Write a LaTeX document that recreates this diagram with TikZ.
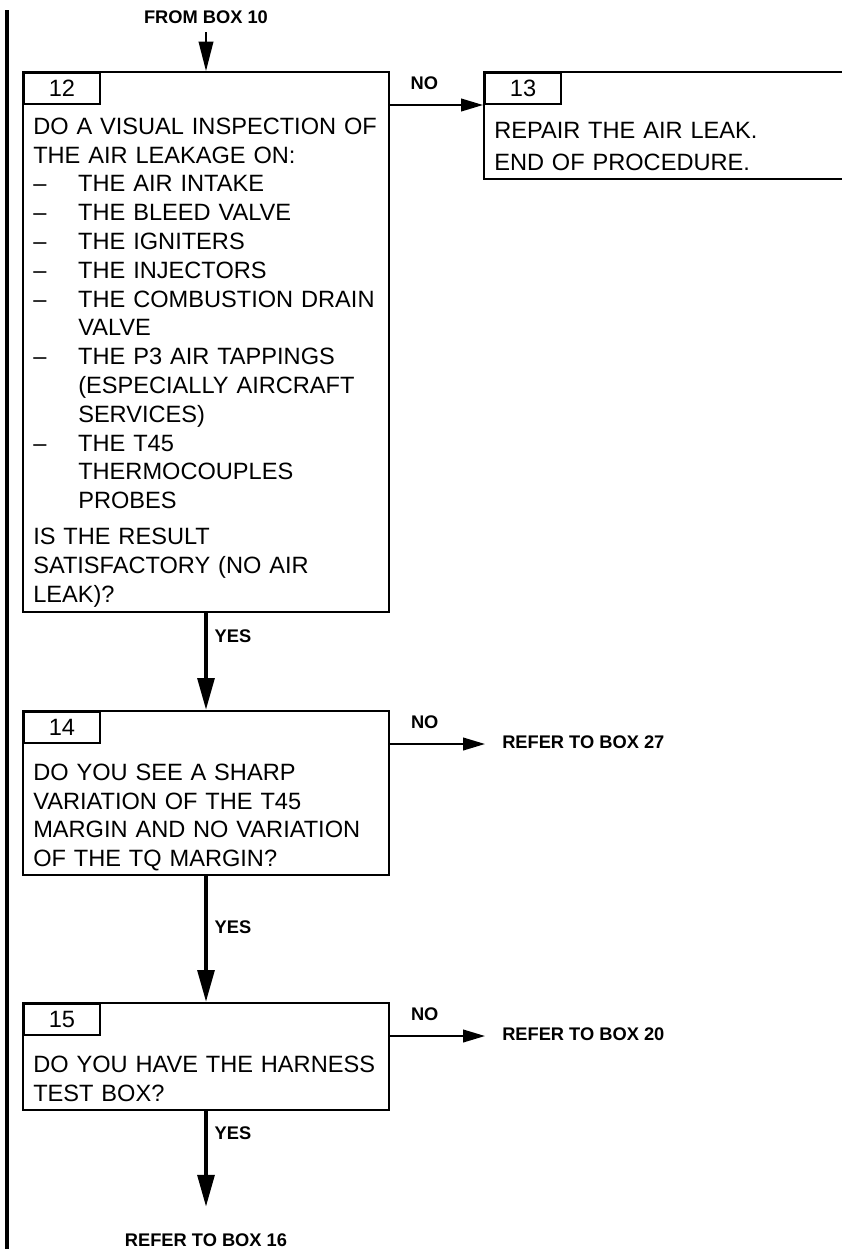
\documentclass[tikz,border=0pt]{standalone}
\usepackage{fontspec}
\setmainfont{Liberation Sans}
\usetikzlibrary{arrows.meta,positioning,fit}
\tikzset{
  caja/.style={draw, line width=1.5pt, inner sep=0pt},
  num/.style={draw, line width=1.5pt, inner sep=0pt, anchor=north west, minimum width=57pt, minimum height=23.25pt, font=\fontsize{17.7}{21.6}\selectfont},
  txt/.style={anchor=base west, inner sep=0pt, align=left, text width=265pt, font=\fontsize{17.7}{21.6}\selectfont},
  et/.style={inner sep=0pt, font=\fontsize{13.7}{16}\selectfont\bfseries},
  fl/.style={-{Triangle[length=24pt,width=12.5pt]}, line width=3pt},
  flno/.style={-{Triangle[length=16.5pt,width=9.5pt]}, line width=1.5pt},
  flin/.style={-{Triangle[length=22pt,width=11pt]}, line width=1.1pt},
}
\newcommand{\guion}[1]{\makebox[33.75pt][l]{–}#1}
\newcommand{\sigue}[1]{\hspace*{33.75pt}#1}

\begin{document}
\begin{tikzpicture}[x=0.75pt,y=-0.75pt]
  \useasboundingbox (0,0) rectangle (842,1249);
  \draw[line width=3pt] (7,10) -- (7,1260);

  % box 12
  \node[caja, fit={(23,72) (389,612)}] (b12) {};
  \node[num] (t12) at (23,72) {12};
  \node[txt] (x12) at (33,134.2) {DO A VISUAL INSPECTION OF\\
    THE AIR LEAKAGE ON:\\
    \guion{THE AIR INTAKE}\\
    \guion{THE BLEED VALVE}\\
    \guion{THE IGNITERS}\\
    \guion{THE INJECTORS}\\
    \guion{THE COMBUSTION DRAIN}\\
    \sigue{VALVE}\\
    \guion{THE P3 AIR TAPPINGS}\\
    \sigue{(ESPECIALLY AIRCRAFT}\\
    \sigue{SERVICES)}\\
    \guion{THE T45}\\
    \sigue{THERMOCOUPLES}\\
    \sigue{PROBES}\\[5.4pt]
    IS THE RESULT\\
    SATISFACTORY (NO AIR\\
    LEAK)?};

  % box 13
  \node[caja, fit={(484,72) (870,179)}] (b13) {};
  \node[num] (t13) at (484,72) {13};
  \node[txt, font=\fontsize{17.7}{23.8}\selectfont] (x13) at (494,138.5) {REPAIR THE AIR LEAK.\\
    END OF PROCEDURE.};

  % box 14
  \node[caja, fit={(23,711) (389,875)}] (b14) {};
  \node[num] (t14) at (23,711) {14};
  \node[txt] (x14) at (33,780.2) {DO YOU SEE A SHARP\\
    VARIATION OF THE T45\\
    MARGIN AND NO VARIATION\\
    OF THE TQ MARGIN?};

  % box 15
  \node[caja, fit={(23,1003) (389,1110)}] (b15) {};
  \node[num] (t15) at (23,1003) {15};
  \node[txt] (x15) at (33,1072.5) {DO YOU HAVE THE HARNESS\\
    TEST BOX?};

  % entradas y salidas
  \node[et] (f10) at (206,17) {FROM BOX 10};
  \coordinate (c10) at (206,32);
  \node[et, anchor=west] (r27) at (502,742) {REFER TO BOX 27};
  \node[et, anchor=west] (r20) at (502,1034) {REFER TO BOX 20};
  \node[et] (r16) at (206,1240) {REFER TO BOX 16};

  \draw[flin] (c10) -- (b12.north);
  \draw[flno] (t12.south -| b12.east) -- node[et, pos=.37, above=11pt] (n12) {NO} (t12.south -| b13.west);
  \draw[flno, shorten >=12.75pt] (t14.south -| b14.east) -- node[et, pos=.31, above=11pt] (n14) {NO} (t14.south -| r27.west);
  \draw[flno, shorten >=12.75pt] (t15.south -| b15.east) -- node[et, pos=.31, above=11pt] (n15) {NO} (t15.south -| r20.west);
  \draw[fl] (b12.south) -- node[et, pos=.24, right=5pt] (y12) {YES} (b14.north);
  \draw[fl] (b14.south) -- node[et, pos=.41, right=5pt] (y14) {YES} (b15.north);
  \draw[fl, shorten >=19.8pt] (b15.south) -- node[et, pos=.18, right=5pt] (y15) {YES} (r16.north);
\end{tikzpicture}
\end{document}
